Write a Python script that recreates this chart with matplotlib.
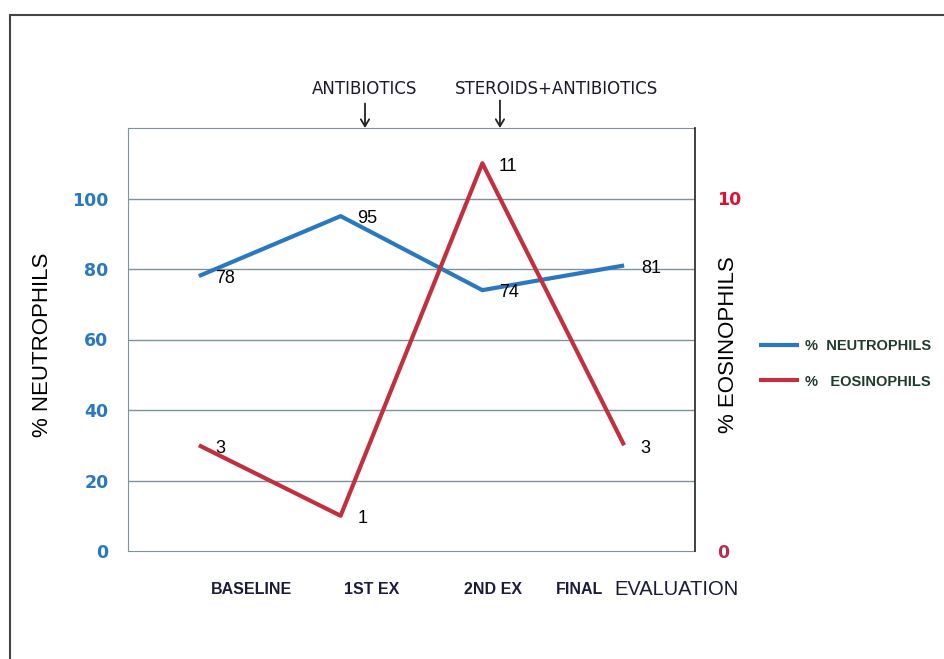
import matplotlib
matplotlib.use("Agg")
import matplotlib.pyplot as plt
from matplotlib.patches import Rectangle

# data
stages = ["BASELINE", "1ST EX", "2ND EX", "FINAL EVALUATION"]
neutrophils = [78, 95, 74, 81]
eosinophils = [3, 1, 11, 3]
left_ticks = [0, 20, 40, 60, 80, 100]
right_ticks = [0, 10]

blue = "#2a78c0"
red = "#c23040"
grid_col = "#7d939c"
plain = ["Liberation Sans", "DejaVu Sans"]

fig = plt.figure(figsize=(9.44, 6.59), dpi=100)
fig.patches.append(Rectangle((10 / 944, -0.1), 1.2, 1 - 15 / 659 + 0.1, transform=fig.transFigure,
                             fill=False, edgecolor="#444444", linewidth=1.5))

ax = fig.add_axes([128 / 944, 108 / 659, 567 / 944, 423 / 659])
ax2 = ax.twinx()

x = [i + 0.5 for i in range(len(stages))]
ax.set_xlim(0, 4)
ax.set_ylim(0, 120)
ax2.set_ylim(0, 12)

# grid
for v in left_ticks[1:]:
    ax.axhline(v, color=grid_col, linewidth=1, zorder=0)

for s in ["left", "bottom", "top"]:
    ax.spines[s].set_color(grid_col)
ax.spines["right"].set_visible(False)
for s in ["left", "bottom", "top"]:
    ax2.spines[s].set_visible(False)
ax2.spines["right"].set_color("#333333")
ax2.spines["right"].set_linewidth(1.3)

ax.set_xticks([])
ax.set_yticks(left_ticks)
ax.tick_params(axis="y", length=0, pad=14, labelcolor=blue)
for t in ax.get_yticklabels():
    t.set_fontweight("bold")
    t.set_fontsize(12.5)
ax2.set_yticks(right_ticks)
ax2.tick_params(axis="y", length=0, pad=16)
rlabs = ax2.get_yticklabels()
rlabs[0].set_color("#b03050")
rlabs[1].set_color("#e01030")
for t in rlabs:
    t.set_fontweight("bold")
    t.set_fontsize(12.5)

ln1, = ax.plot(x, neutrophils, color=blue, linewidth=3, solid_capstyle="butt", zorder=3)
ln2, = ax2.plot(x, eosinophils, color=red, linewidth=3, solid_capstyle="butt", zorder=3)

for xi, v in zip(x, neutrophils):
    ax.annotate(str(v), (xi, v), xytext=(12, -2), textcoords="offset points",
                ha="left", va="center", fontsize=13, family=plain)
for xi, v in zip(x, eosinophils):
    ax2.annotate(str(v), (xi, v), xytext=(12, -2), textcoords="offset points",
                 ha="left", va="center", fontsize=13, family=plain)

ax.set_ylabel("% NEUTROPHILS", fontsize=16, family=plain)
ax.yaxis.set_label_coords(-0.132, 0.487)
ax2.set_ylabel("% EOSINOPHILS", fontsize=16, family=plain, rotation=90)
ax2.yaxis.set_label_coords(1.041, 0.487)

# category labels
lab_col = "#1c1c3a"
trans = ax.get_xaxis_transform()
ax.text(0.868, -0.092, "BASELINE", transform=trans, ha="center", va="center",
        fontsize=11.5, fontweight="bold", color=lab_col, family=plain)
ax.text(1.72, -0.092, "1ST EX", transform=trans, ha="center", va="center",
        fontsize=11.5, fontweight="bold", color=lab_col, family=plain)
ax.text(2.575, -0.092, "2ND EX", transform=trans, ha="center", va="center",
        fontsize=11.5, fontweight="bold", color=lab_col, family=plain)
ax.text(3.02, -0.092, "FINAL", transform=trans, ha="left", va="center",
        fontsize=11.5, fontweight="bold", color=lab_col, family=plain)
ax.text(3.43, -0.092, "EVALUATION", transform=trans, ha="left", va="center",
        fontsize=14.5, color=lab_col, family=plain)

# treatment arrows
ax.annotate("", xy=(1.672, 1.0), xycoords=trans, xytext=(1.672, 1.058),
            textcoords=trans, arrowprops=dict(arrowstyle="->,head_length=0.5,head_width=0.3",
                                              color="#222222", lw=1.3, shrinkA=0, shrinkB=0))
ax.text(1.672, 1.092, "ANTIBIOTICS", transform=trans, ha="center", va="center",
        fontsize=12, family="DejaVu Sans", color="#1a1a2a")
ax.annotate("", xy=(2.624, 1.0), xycoords=trans, xytext=(2.624, 1.065),
            textcoords=trans, arrowprops=dict(arrowstyle="->,head_length=0.5,head_width=0.3",
                                              color="#222222", lw=1.3, shrinkA=0, shrinkB=0))
ax.text(3.026, 1.092, "STEROIDS+ANTIBIOTICS", transform=trans, ha="center", va="center",
        fontsize=12, family="DejaVu Sans", color="#1a1a2a")

fig.legend([ln1, ln2], ["%  NEUTROPHILS", "%   EOSINOPHILS"], loc="center left",
           bbox_to_anchor=(746 / 944, 1 - 364 / 659), frameon=False, handlelength=2.75,
           handletextpad=0.4, labelspacing=1.45, prop={"family": plain, "weight": "bold", "size": 10.5},
           labelcolor="#1e3b2c")

fig.savefig("out.png", dpi=100)
